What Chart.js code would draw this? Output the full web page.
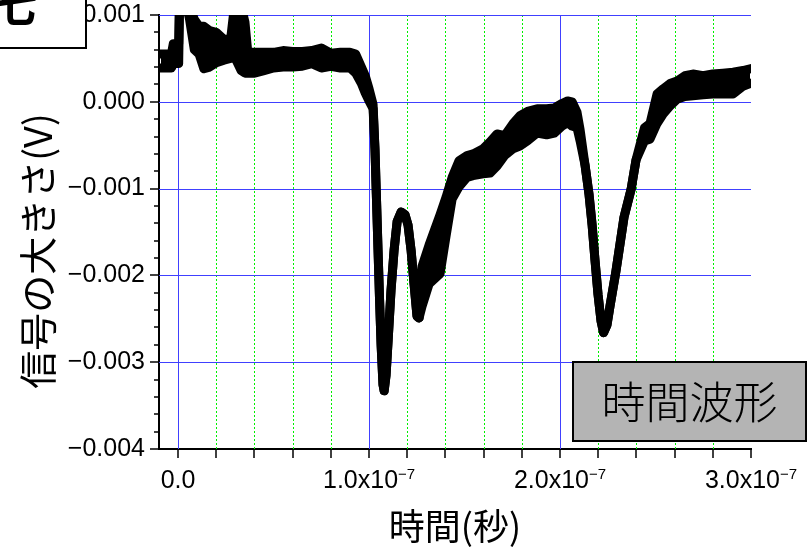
<!DOCTYPE html>
<html>
<head>
<meta charset="utf-8">
<script src="https://cdn.jsdelivr.net/npm/chart.js@4.4.1/dist/chart.umd.min.js"></script>
<style>
  html, body { margin: 0; padding: 0; background: #fff; }
  canvas { display: block; }
</style>
</head>
<body>
<canvas id="wave" width="809" height="550"></canvas>
<script>
// Sample times of the recorded trace, in nanoseconds
const timeNs = [
  -9, -3.5, -2.5, 0.3, 0.8, 4, 6, 8.5, 11, 13.5,
  16.5, 20, 24, 27.5, 29.5, 33, 35, 36.5, 40, 45,
  50, 55, 60, 65, 70, 75, 80, 85, 90, 93,
  96, 98, 100, 102.1, 103.1, 103.9, 104.7, 105.5, 106.3, 107.3,
  107.9, 108.9, 110, 111.5, 113.1, 114.7, 116.8, 118.8, 120.4, 122,
  123.6, 125.1, 126.2, 127.7, 131.4, 137.2, 140.3, 143.5, 147.1, 151.3,
  154.5, 159.7, 163.4, 167, 171, 175.4, 179, 183, 188, 193,
  197, 201, 204, 206.3, 208.9, 210.5, 213.1, 215.2, 216.8, 218.3,
  219.9, 221.5, 222.8, 224.6, 226.2, 229.3, 233.5, 237.2, 239.8, 244.2,
  247.1, 250.8, 254, 257.6, 261.3, 265.4, 269.6, 274.9, 280, 285.3,
  290.6, 295.8, 299.5
];

// Upper edge of the noisy trace (mV)
const upperMv = [
  0.55, 0.55, 0.67, 0.67, 1.30, 1.30, 1.10, 0.95, 0.87, 0.87,
  0.82, 0.80, 0.72, 0.72, 1.10, 1.10, 0.92, 0.57, 0.57, 0.57,
  0.57, 0.59, 0.58, 0.58, 0.59, 0.62, 0.56, 0.57, 0.57, 0.55,
  0.40, 0.30, 0.15, -0.03, -0.55, -1.13, -1.71, -2.28, -2.80, -3.26,
  -3.33, -3.15, -2.74, -2.17, -1.71, -1.38, -1.27, -1.30, -1.42, -1.71,
  -2.11, -2.47, -2.49, -1.90, -1.65, -1.30, -1.10, -0.87, -0.68, -0.62,
  -0.60, -0.54, -0.46, -0.37, -0.39, -0.25, -0.16, -0.11, -0.08, -0.08,
  -0.07, -0.02, 0.01, 0.00, -0.12, -0.32, -0.73, -1.07, -1.42, -1.82,
  -2.22, -2.53, -2.66, -2.57, -2.35, -1.95, -1.33, -1.01, -0.67, -0.30,
  -0.25, 0.09, 0.15, 0.21, 0.24, 0.30, 0.32, 0.30, 0.32, 0.33,
  0.34, 0.36, 0.38
];

// Lower edge of the noisy trace (mV)
const lowerMv = [
  0.39, 0.39, 0.44, 0.44, 1.15, 1.15, 0.95, 0.60, 0.55, 0.38,
  0.40, 0.45, 0.48, 0.50, 0.52, 0.36, 0.33, 0.33, 0.33, 0.36,
  0.39, 0.40, 0.40, 0.41, 0.44, 0.39, 0.41, 0.39, 0.39, 0.33,
  0.21, 0.10, 0.01, -0.08, -0.55, -1.13, -1.71, -2.28, -2.80, -3.26,
  -3.33, -3.15, -2.74, -2.17, -1.71, -1.38, -1.27, -1.30, -1.42, -1.71,
  -2.11, -2.47, -2.49, -2.36, -2.10, -1.98, -1.55, -1.12, -0.98, -0.87,
  -0.85, -0.83, -0.82, -0.74, -0.62, -0.54, -0.51, -0.45, -0.36, -0.38,
  -0.36, -0.28, -0.24, -0.28, -0.30, -0.45, -0.73, -1.07, -1.42, -1.82,
  -2.22, -2.53, -2.66, -2.57, -2.35, -1.95, -1.33, -1.01, -0.67, -0.45,
  -0.43, -0.25, -0.14, -0.05, 0.03, 0.06, 0.07, 0.08, 0.09, 0.09,
  0.09, 0.18, 0.21
];

// Axis labels
const yTickValues = [1, 0, -1, -2, -3, -4];            // mV
const yTickLabels = ['0.001', '0.000', '\u22120.001', '\u22120.002', '\u22120.003', '\u22120.004'];
const xTickValues = [0, 100, 200, 300];                // ns
const xTickMantissas = ['0.0', '1.0x10', '2.0x10', '3.0x10'];
const xTickExponents = ['', '\u22127', '\u22127', '\u22127'];
const xTitle = '時間(秒)';
const yTitle = '信号の大きさ(V)';
const boxLabel = '時間波形';
const cornerLabel = '七';

const X_MIN = -10, X_MAX = 300, X_STEP = 20;
const Y_MIN = -4, Y_MAX = 1;

const isWhole = v => Math.abs(v - Math.round(v)) < 1e-6;
const BLUE = 'rgb(64,64,255)';
const GREEN = 'rgb(0,240,0)';
const SANS = '"Liberation Sans", Arial, sans-serif';
const CJK = '"Noto Sans CJK JP", sans-serif';

const decor = {
  id: 'decor',
  beforeDraw(chart) {
    const { ctx, width, height } = chart;
    ctx.save();
    ctx.fillStyle = '#fff';
    ctx.fillRect(0, 0, width, height);
    ctx.restore();
  },
  // grid: blue solid at the labelled values, green dotted in between
  beforeDatasetsDraw(chart) {
    const { ctx, chartArea: a, scales: { x, y } } = chart;
    ctx.save();
    ctx.lineWidth = 1;
    x.ticks.forEach(t => {
      if (t.value === X_MAX) return;
      const px = Math.round(x.getPixelForValue(t.value)) + 0.5;
      const major = t.value % 100 === 0;
      ctx.strokeStyle = major ? BLUE : GREEN;
      ctx.setLineDash(major ? [] : [2, 2]);
      ctx.beginPath();
      ctx.moveTo(px, a.top);
      ctx.lineTo(px, a.bottom);
      ctx.stroke();
    });
    ctx.setLineDash([]);
    ctx.strokeStyle = BLUE;
    y.ticks.forEach(t => {
      if (!isWhole(t.value) || t.value === Y_MIN) return;
      const py = Math.round(y.getPixelForValue(t.value)) + 0.5;
      ctx.beginPath();
      ctx.moveTo(a.left, py);
      ctx.lineTo(a.right, py);
      ctx.stroke();
    });
    ctx.restore();
  },
  afterDraw(chart) {
    const { ctx, chartArea: a, scales: { x, y } } = chart;
    ctx.save();
    ctx.strokeStyle = '#000';
    ctx.lineWidth = 1.5;

    // tick marks, outside the plot
    y.ticks.forEach(t => {
      const py = Math.round(y.getPixelForValue(t.value));
      const len = isWhole(t.value) ? 9 : 5;
      ctx.beginPath();
      ctx.moveTo(a.left - len, py);
      ctx.lineTo(a.left, py);
      ctx.stroke();
    });
    x.ticks.forEach(t => {
      const px = Math.round(x.getPixelForValue(t.value));
      ctx.beginPath();
      ctx.moveTo(px, a.bottom);
      ctx.lineTo(px, a.bottom + 9);
      ctx.stroke();
    });

    // y tick labels
    ctx.fillStyle = '#000';
    ctx.font = '25px ' + SANS;
    ctx.textAlign = 'right';
    ctx.textBaseline = 'middle';
    yTickValues.forEach((v, i) => {
      ctx.fillText(yTickLabels[i], a.left - 14, y.getPixelForValue(v));
    });

    // x tick labels with a raised exponent
    ctx.textAlign = 'left';
    ctx.textBaseline = 'alphabetic';
    xTickValues.forEach((v, i) => {
      const px = x.getPixelForValue(v);
      ctx.font = '25px ' + SANS;
      const wm = ctx.measureText(xTickMantissas[i]).width;
      ctx.font = '15px ' + SANS;
      const we = xTickExponents[i] ? ctx.measureText(xTickExponents[i]).width : 0;
      const x0 = px - (wm + we) / 2;
      ctx.font = '25px ' + SANS;
      ctx.fillText(xTickMantissas[i], x0, 488);
      if (we) {
        ctx.font = '15px ' + SANS;
        ctx.fillText(xTickExponents[i], x0 + wm, 479);
      }
    });

    // axis titles
    ctx.font = '36px ' + CJK;
    ctx.textAlign = 'center';
    ctx.textBaseline = 'middle';
    ctx.fillText(xTitle, (a.left + a.right) / 2, 526);

    ctx.save();
    ctx.translate(37.5, 251);
    ctx.rotate(-Math.PI / 2);
    ctx.font = '38px ' + CJK;
    ctx.fillText(yTitle, 0, 0);
    ctx.restore();

    // caption box
    ctx.fillStyle = '#b4b4b4';
    ctx.fillRect(573, 362, 233, 79);
    ctx.lineWidth = 2;
    ctx.strokeRect(573, 362, 233, 79);
    ctx.fillStyle = '#000';
    ctx.font = '300 44px ' + CJK;
    ctx.fillText(boxLabel, 573 + 233 / 2, 402);

    // corner label box
    ctx.fillStyle = '#fff';
    ctx.fillRect(-2, -2, 88, 50);
    ctx.strokeRect(-2, -2, 88, 50);
    ctx.fillStyle = '#000';
    ctx.font = 'bold 44px ' + CJK;
    ctx.fillText(cornerLabel, 15, 5);

    ctx.restore();
  }
};

const traceStyle = {
  borderColor: '#000',
  backgroundColor: '#000',
  borderWidth: 9,
  borderJoinStyle: 'round',
  borderCapStyle: 'square',
  pointRadius: 0,
  tension: 0,
  clip: 0
};

new Chart(document.getElementById('wave'), {
  type: 'line',
  data: {
    datasets: [
      Object.assign({ label: 'upper', data: timeNs.map((t, i) => ({ x: t, y: upperMv[i] })), fill: false }, traceStyle),
      Object.assign({ label: 'lower', data: timeNs.map((t, i) => ({ x: t, y: lowerMv[i] })), fill: '-1' }, traceStyle)
    ]
  },
  options: {
    responsive: false,
    animation: false,
    devicePixelRatio: 1,
    layout: { padding: { top: 15, right: 58, left: 0, bottom: 0 } },
    plugins: { legend: { display: false }, tooltip: { enabled: false } },
    scales: {
      x: {
        type: 'linear',
        min: X_MIN,
        max: X_MAX,
        afterBuildTicks: s => {
          const ticks = [];
          for (let v = 0; v <= X_MAX; v += X_STEP) ticks.push({ value: v });
          s.ticks = ticks;
        },
        afterFit: s => { s.height = 101; },
        ticks: { display: false },
        grid: { display: false, drawTicks: false },
        border: { display: true, color: '#000', width: 2 }
      },
      y: {
        min: Y_MIN,
        max: Y_MAX,
        afterBuildTicks: s => {
          const ticks = [];
          for (let i = 0; i <= 25; i++) ticks.push({ value: (Y_MIN * 5 + i) / 5 });
          s.ticks = ticks;
        },
        afterFit: s => { s.width = 159; },
        ticks: { display: false },
        grid: { display: false, drawTicks: false },
        border: { display: true, color: '#000', width: 2 }
      }
    }
  },
  plugins: [decor]
});
</script>
</body>
</html>
